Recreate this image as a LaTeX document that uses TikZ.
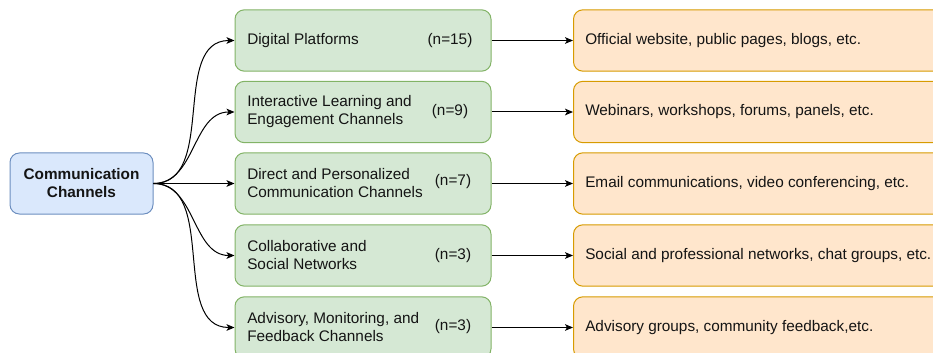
\documentclass[tikz,border=0pt]{standalone}
\usepackage{fontspec}
\setmainfont{Liberation Sans}
\usetikzlibrary{arrows.meta}
\tikzset{
  box/.style={draw, line width=0.75pt, rounded corners=7pt, inner sep=0pt},
  bluebox/.style={box, fill=boxblue, draw=strokeblue, minimum width=107.25pt, minimum height=45.75pt},
  greenbox/.style={box, fill=boxgreen, draw=strokegreen, minimum width=192pt, minimum height=46pt},
  orangebox/.style={box, fill=boxorange, draw=strokeorange, minimum width=330pt, minimum height=46pt, anchor=west},
  txt/.style={font=\fontsize{11.5}{13.5}\selectfont, inner sep=0pt, text=black!92},
  ltxt/.style={txt, anchor=west, align=left},
  arr/.style={-{Stealth[length=6pt,width=5pt,inset=1.5pt]}, line width=0.75pt, black},
}
\definecolor{boxblue}{HTML}{DAE8FC}
\definecolor{strokeblue}{HTML}{6C8EBF}
\definecolor{boxgreen}{HTML}{D5E8D4}
\definecolor{strokegreen}{HTML}{82B366}
\definecolor{boxorange}{HTML}{FFE6CC}
\definecolor{strokeorange}{HTML}{D79B00}
\begin{document}
\begin{tikzpicture}[x=0.75pt,y=-0.75pt]
\path[use as bounding box] (0,0) rectangle (933,353);
\clip (0,0) rectangle (933,353);
% source
\node[bluebox] (b) at (81.5,183.5) {};
\node[txt, font=\fontsize{11.5}{13.5}\selectfont\bfseries, align=center] (bt) at (81.5,183.5) {Communication\\Channels};
% boxes
\foreach \i/\y in {1/40.5,2/112,3/183.5,4/255.5,5/327.5}{
  \node[greenbox] (g\i) at (363,\y) {};
  \node[orangebox] (o\i) at (573,\y) {};
}
\node[ltxt] (g1t) at (247,40.5) {Digital Platforms};
\node[txt] (g1n) at (450,40.5) {(n=15)};
\node[ltxt] (g2t) at (247,112) {Interactive Learning and\\Engagement Channels};
\node[txt] (g2n) at (450,112) {(n=9)};
\node[ltxt] (g3t) at (247,183.5) {Direct and Personalized\\Communication Channels};
\node[txt] (g3n) at (453,182) {(n=7)};
\node[ltxt] (g4t) at (247,255.5) {Collaborative and\\Social Networks};
\node[txt] (g4n) at (453,255.5) {(n=3)};
\node[ltxt] (g5t) at (247,327.5) {Advisory, Monitoring, and\\Feedback Channels};
\node[txt] (g5n) at (453,326.5) {(n=3)};
% orange texts
\node[ltxt] (o1t) at (585,40.5) {Official website, public pages, blogs, etc.};
\node[ltxt] (o2t) at (585,112) {Webinars, workshops, forums, panels, etc.};
\node[ltxt] (o3t) at (585,183.5) {Email communications, video conferencing, etc.};
\node[ltxt] (o4t) at (585,255.5) {Social and professional networks, chat groups, etc.};
\node[ltxt] (o5t) at (585,327.5) {Advisory groups, community feedback,etc.};
% connectors
\foreach \i in {1,...,5}{
  \draw[arr] (b.east) to[out=0,in=180] (g\i.west);
  \draw[arr] (g\i.east) -- (o\i.west);
}
\end{tikzpicture}
\end{document}
